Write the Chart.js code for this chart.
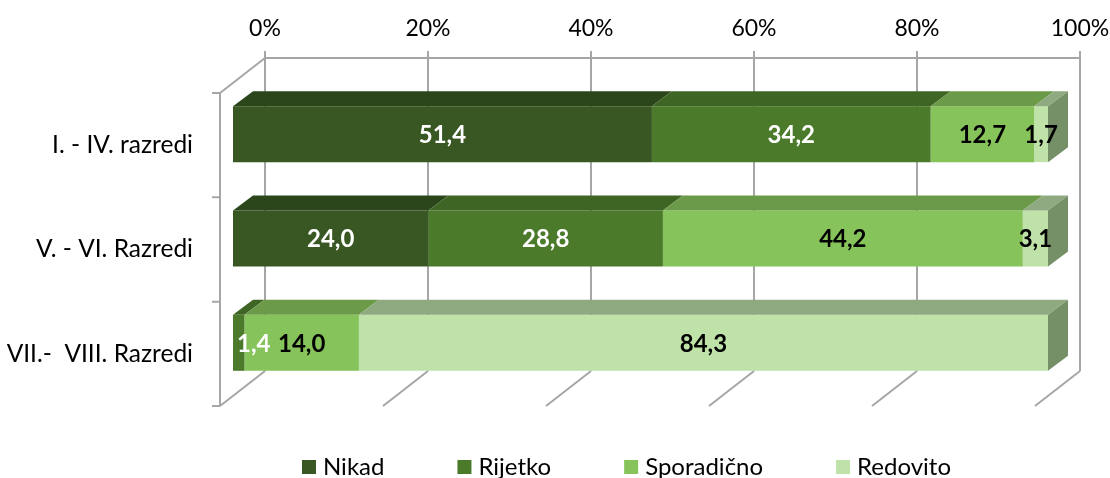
<!DOCTYPE html>
<html>
<head>
<meta charset="utf-8">
<script src="https://cdn.jsdelivr.net/npm/chart.js@4.4.0/dist/chart.umd.min.js"></script>
<style>
  html, body { margin: 0; padding: 0; background: #fff; }
  #wrap { width: 1110px; height: 478px; }
</style>
</head>
<body>
<div id="wrap"><canvas id="chart" width="1110" height="478"></canvas></div>
<script>
// ===================================
// Data
// ===================================
const categories = ["I. - IV. razredi", "V. - VI. Razredi", "VII.-  VIII. Razredi"];
const seriesNames = ["Nikad", "Rijetko", "Sporadično", "Redovito"];
const nikad = [51.4, 24.0, null];
const rijetko = [34.2, 28.8, 1.4];
const sporadicno = [12.7, 44.2, 14.0];
const redovito = [1.7, 3.1, 84.3];
const tickValues = [0, 20, 40, 60, 80, 100];
const tickLabels = ["0%", "20%", "40%", "60%", "80%", "100%"];

// ===================================
// Styles
// ===================================
const frontColors = ["#385723", "#4b7a2b", "#86c35a", "#bee2a7"];
const topColors = ["#2c461b", "#3e6524", "#6b9b48", "#8faa80"];
const sideColors = ["#2c461b", "#3e6524", "#6b9b48", "#758f66"];
const labelColors = ["#ffffff", "#ffffff", "#000000", "#000000"];
const gridColor = "#a6a6a6";
const FONT = "Lato";

// 3D offsets (bar depth, back wall, front wall)
const BAR_DX = 20, BAR_DY = -15;
const BACK_DX = 32, BACK_DY = -24;
const FRONT_DX = -13, FRONT_DY = 11;

// 100% stacked: share of each row total
const series = [nikad, rijetko, sporadicno, redovito];
const rowTotals = categories.map((_, i) =>
  series.reduce((s, arr) => s + (arr[i] || 0), 0)
);

function fmt(v) {
  return v.toFixed(1).replace(".", ",");
}

// ===================================
// Plugins
// ===================================
const wallsPlugin = {
  id: "walls",
  beforeDatasetsDraw(chart) {
    const { ctx, chartArea: a, scales } = chart;
    const xs = scales.x;
    ctx.save();
    ctx.strokeStyle = gridColor;
    ctx.lineWidth = 2;
    ctx.beginPath();
    // back wall top edge
    ctx.moveTo(a.left + BACK_DX, a.top + BACK_DY);
    ctx.lineTo(a.right + BACK_DX, a.top + BACK_DY);
    // back gridlines + floor diagonals
    tickValues.forEach((v) => {
      const px = xs.getPixelForValue(v) + BACK_DX;
      ctx.moveTo(px, a.top + BACK_DY - 7);
      ctx.lineTo(px, a.bottom + BACK_DY);
      ctx.moveTo(px, a.bottom + BACK_DY);
      ctx.lineTo(px - (BACK_DX - FRONT_DX), a.bottom + FRONT_DY);
    });
    // left wall
    const lx = a.left + FRONT_DX;
    ctx.moveTo(lx, a.top + FRONT_DY);
    ctx.lineTo(lx, a.bottom + FRONT_DY);
    ctx.moveTo(lx, a.top + FRONT_DY);
    ctx.lineTo(a.left + BACK_DX, a.top + BACK_DY);
    // category ticks
    const n = categories.length;
    for (let i = 0; i <= n; i++) {
      const y = a.top + FRONT_DY + (i * (a.bottom - a.top)) / n;
      ctx.moveTo(lx - 8, y);
      ctx.lineTo(lx, y);
    }
    ctx.stroke();

    // value axis labels (top)
    ctx.fillStyle = "#000";
    ctx.font = "23px " + FONT;
    ctx.textAlign = "center";
    ctx.textBaseline = "middle";
    tickValues.forEach((v, i) => {
      ctx.fillText(tickLabels[i], xs.getPixelForValue(v) + BACK_DX, 29);
    });

    // category labels
    ctx.font = "24.5px " + FONT;
    ctx.textAlign = "right";
    categories.forEach((c, i) => {
      const y = scales.y.getPixelForValue(i) + FRONT_DY;
      ctx.fillText(c, lx - 27, y);
    });
    ctx.restore();
  },

  afterDatasetsDraw(chart) {
    const { ctx, chartArea: a } = chart;
    ctx.save();
    const metas = chart.data.datasets.map((_, di) => chart.getDatasetMeta(di));

    // top faces + side face of the last segment
    categories.forEach((_, i) => {
      let last = -1;
      series.forEach((arr, di) => {
        if (arr[i]) last = di;
      });
      metas.forEach((meta, di) => {
        const bar = meta.data[i];
        if (!bar || !series[di][i]) return;
        const p = bar.getProps(["x", "y", "base", "height"], true);
        const x0 = Math.min(p.base, p.x), x1 = Math.max(p.base, p.x);
        const top = p.y - p.height / 2, bottom = p.y + p.height / 2;
        ctx.fillStyle = topColors[di];
        ctx.beginPath();
        ctx.moveTo(x0, top);
        ctx.lineTo(x1, top);
        ctx.lineTo(x1 + BAR_DX, top + BAR_DY);
        ctx.lineTo(x0 + BAR_DX, top + BAR_DY);
        ctx.closePath();
        ctx.fill();
        if (di === last) {
          ctx.fillStyle = sideColors[di];
          ctx.beginPath();
          ctx.moveTo(x1, top);
          ctx.lineTo(x1 + BAR_DX, top + BAR_DY);
          ctx.lineTo(x1 + BAR_DX, bottom + BAR_DY);
          ctx.lineTo(x1, bottom);
          ctx.closePath();
          ctx.fill();
        }
      });
    });

    // data labels
    ctx.font = "bold 24px " + FONT;
    ctx.textAlign = "center";
    ctx.textBaseline = "middle";
    metas.forEach((meta, di) => {
      meta.data.forEach((bar, i) => {
        const v = series[di][i];
        if (!v) return;
        const p = bar.getProps(["x", "y", "base"], true);
        const txt = fmt(v);
        const w = ctx.measureText(txt).width;
        let cx = (p.base + p.x) / 2;
        if (cx - w / 2 < a.left + 4) cx = a.left + 4 + w / 2;
        ctx.fillStyle = labelColors[di];
        ctx.fillText(txt, cx, p.y + 1);
      });
    });
    ctx.restore();
  },

  afterDraw(chart) {
    // legend
    const { ctx } = chart;
    ctx.save();
    ctx.font = "24px " + FONT;
    ctx.textBaseline = "middle";
    const box = 14, gapBox = 7, gapItem = 73;
    const widths = seriesNames.map((s) => box + gapBox + ctx.measureText(s).width);
    const total = widths.reduce((s, w) => s + w, 0) + gapItem * (widths.length - 1);
    let x = 626.5 - total / 2;
    const y = 467;
    seriesNames.forEach((s, di) => {
      ctx.fillStyle = frontColors[di];
      ctx.fillRect(x, y - box / 2, box, box);
      ctx.fillStyle = "#000";
      ctx.textAlign = "left";
      ctx.fillText(s, x + box + gapBox, y);
      x += widths[di] + gapItem;
    });
    ctx.restore();
  },
};

// ===================================
// Chart
// ===================================
const datasets = series.map((arr, di) => ({
  label: seriesNames[di],
  data: arr.map((v, i) => (v == null ? null : (v / rowTotals[i]) * 100)),
  backgroundColor: frontColors[di],
  borderWidth: 0,
  barPercentage: 0.536,
  categoryPercentage: 1,
}));

new Chart(document.getElementById("chart").getContext("2d"), {
  type: "bar",
  data: { labels: categories, datasets: datasets },
  options: {
    indexAxis: "y",
    responsive: false,
    animation: false,
    layout: { padding: { left: 233, right: 62, top: 82, bottom: 83 } },
    plugins: {
      legend: { display: false },
      tooltip: { enabled: false },
    },
    scales: {
      x: { stacked: true, min: 0, max: 100, display: false },
      y: { stacked: true, display: false },
    },
  },
  plugins: [wallsPlugin],
});
</script>
</body>
</html>
